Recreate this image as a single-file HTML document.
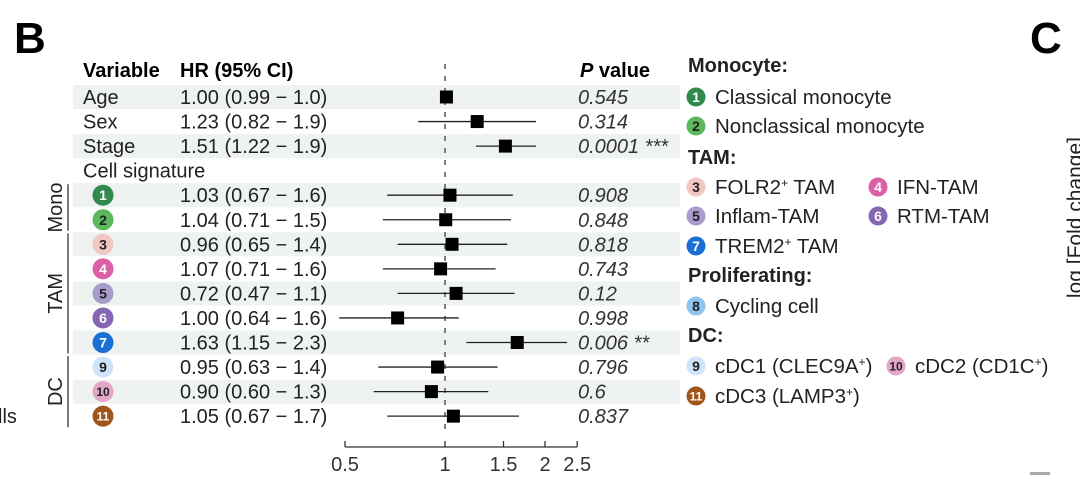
<!DOCTYPE html>
<html><head><meta charset="utf-8"><style>
html,body{margin:0;padding:0;background:#fff;}
svg{display:block;font-family:"Liberation Sans",Arial,sans-serif;}
</style></head><body>
<svg id="chart" width="1080" height="479" viewBox="0 0 1080 479">
<text x="14" y="53" font-size="44" font-weight="bold">B</text>
<text x="1030" y="53" font-size="44" font-weight="bold">C</text>
<text transform="translate(1082,137) rotate(-90)" text-anchor="end" font-size="21" fill="#222">log [Fold change]</text>
<text x="-2" y="423" font-size="20" fill="#222">lls</text>
<rect x="1030" y="472" width="20" height="3" fill="#aaa"/>
<g id="rows"></g>
<g id="legend"></g>
</svg>
<script>
const labels = ["Age","Sex","Stage","","1","2","3","4","5","6","7","9","10","11"];
const hrText = ["1.00 (0.99 − 1.0)","1.23 (0.82 − 1.9)","1.51 (1.22 − 1.9)","","1.03 (0.67 − 1.6)","1.04 (0.71 − 1.5)","0.96 (0.65 − 1.4)","1.07 (0.71 − 1.6)","0.72 (0.47 − 1.1)","1.00 (0.64 − 1.6)","1.63 (1.15 − 2.3)","0.95 (0.63 − 1.4)","0.90 (0.60 − 1.3)","1.05 (0.67 − 1.7)"];
const pText = ["0.545","0.314","0.0001 ***","","0.908","0.848","0.818","0.743","0.12","0.998","0.006 **","0.796","0.6","0.837"];
const hrPoint = [1.01,1.25,1.52,null,1.035,1.005,1.05,0.97,1.08,0.72,1.65,0.95,0.91,1.06];
const ciLow = [1.0,0.83,1.24,null,0.67,0.65,0.72,0.65,0.72,0.48,1.16,0.63,0.61,0.67];
const ciHigh = [1.0,1.88,1.88,null,1.6,1.58,1.54,1.42,1.62,1.1,2.33,1.44,1.35,1.67];
const ticks = [0.5,1,1.5,2,2.5];
const ticksText = ["0.5","1","1.5","2","2.5"];
const circleColors = {"1":"#2f8a4c","2":"#5cb85c","3":"#f3c6c2","4":"#dd5fa8","5":"#a79ccb","6":"#8466b3","7":"#1a6fd4","8":"#8fc4ef","9":"#cfe4f8","10":"#e4a5cb","11":"#a0561b"};
const darkNum = {"2":1,"3":1,"5":1,"8":1,"9":1,"10":1};

const NS="http://www.w3.org/2000/svg";
function mk(tag, attrs, parent, text){const e=document.createElementNS(NS,tag);for(const k in attrs)e.setAttribute(k,attrs[k]);if(text!==undefined)e.textContent=text;parent.appendChild(e);return e;}
const xScale = v => 445 + 100*Math.log2(v);
const rowY = i => 97 + i*24.55;
const g = document.getElementById('rows');
const legend = document.getElementById('legend');

function badge(parent, cx, cy, n, r){
  const c = mk('circle',{cx:cx,cy:cy,r:r,fill:circleColors[n]},parent);
  
  
  const t = mk('text',{x:cx,y:cy+ (n.length>1?4.5:5),"text-anchor":"middle","font-size":n.length>1?12:14,"font-weight":"bold",fill:darkNum[n]?"#222":"#fff"},parent,n);
  
  
}

const shaded = [0,2,4,6,8,10,12];
shaded.forEach(i=>{
  const r = mk('rect',{x:73,y:rowY(i)-12,width:607,height:24,fill:"#eef2f0"},g);
  
  
});
let h=mk('text',{x:83,y:77,"font-size":20,"font-weight":"bold"},g,"Variable");

h=mk('text',{x:180,y:77,"font-size":20,"font-weight":"bold"},g,"HR (95% CI)");

h=mk('text',{x:580,y:77,"font-size":20,"font-weight":"bold"},g);
h.innerHTML='<tspan font-style="italic">P</tspan> value';

h=mk('text',{x:83,y:rowY(3)+7,"font-size":20,fill:"#222"},g,"Cell signature");


const ref = mk('line',{x1:xScale(1),x2:xScale(1),y1:64,y2:430,stroke:"#555","stroke-width":1.5,"stroke-dasharray":"5,7"},g);



labels.forEach((lab,i)=>{
  const y=rowY(i);
  if(lab==="")return;
  if(i<3){
    const t=mk('text',{x:83,y:y+7,"font-size":20,fill:"#222"},g,lab);
    
    
  } else {
    badge(g,103,y,lab,10.5);
  }
  const ht=mk('text',{x:180,y:y+7,"font-size":20,fill:"#222"},g,hrText[i]);
  
  
  const pt=mk('text',{x:578,y:y+7,"font-size":20,"font-style":"italic",fill:"#333"},g,pText[i]);
  
  
  const ci=mk('line',{x1:xScale(ciLow[i]),x2:xScale(ciHigh[i]),y1:y,y2:y,stroke:"#222","stroke-width":1.3},g);
  
  
  const bx=mk('rect',{x:xScale(hrPoint[i])-6.5,y:y-6.5,width:13,height:13,fill:"#000"},g);
  
  
});

const groups=[["Mono",4,5],["TAM",6,10],["DC",11,13]];
groups.forEach(([name,a,b])=>{
  const y1=rowY(a)-11,y2=rowY(b)+11;
  const l=mk('line',{x1:68,x2:68,y1:y1,y2:y2,stroke:"#333","stroke-width":1.3},g);
  
  
  const cy=(y1+y2)/2;
  const t=mk('text',{transform:`translate(62,${cy}) rotate(-90)`,"text-anchor":"middle","font-size":20,fill:"#222"},g,name);
  
  
});

const ax=mk('line',{x1:xScale(0.5),x2:xScale(2.5),y1:447,y2:447,stroke:"#333","stroke-width":1.3},g);


ticks.forEach((v,k)=>{
  const tl=mk('line',{x1:xScale(v),x2:xScale(v),y1:447,y2:441,stroke:"#333","stroke-width":1.3},g);
  
  
  const tt=mk('text',{x:xScale(v),y:471,"text-anchor":"middle","font-size":20,fill:"#333"},g,ticksText[k]);
  
  
});

const heads=[["Monocyte:",72],["TAM:",164],["Proliferating:",282],["DC:",342]];
heads.forEach(([t,y])=>{
  const e=mk('text',{x:688,y:y,"font-size":20,"font-weight":"bold",fill:"#222"},legend,t);
  
  
});
const items=[["1","Classical monocyte",696,97],["2","Nonclassical monocyte",696,126],
["3","FOLR2<tspan font-size='12' dy='-7'>+</tspan><tspan dy='7'> TAM</tspan>",696,187],["4","IFN-TAM",878,187],
["5","Inflam-TAM",696,216],["6","RTM-TAM",878,216],
["7","TREM2<tspan font-size='12' dy='-7'>+</tspan><tspan dy='7'> TAM</tspan>",696,246],
["8","Cycling cell",696,306],
["9","cDC1 (CLEC9A<tspan font-size='12' dy='-7'>+</tspan><tspan dy='7'>)</tspan>",696,366],["10","cDC2 (CD1C<tspan font-size='12' dy='-7'>+</tspan><tspan dy='7'>)</tspan>",896,366],
["11","cDC3 (LAMP3<tspan font-size='12' dy='-7'>+</tspan><tspan dy='7'>)</tspan>",696,396]];
items.forEach(([n,txt,x,y])=>{
  badge(legend,x,y,n,9.5);
  const e=mk('text',{x:x+19,y:y+7,"font-size":20.5,fill:"#222"},legend);
  e.innerHTML=txt;
  
  
});
</script>
</body></html>
